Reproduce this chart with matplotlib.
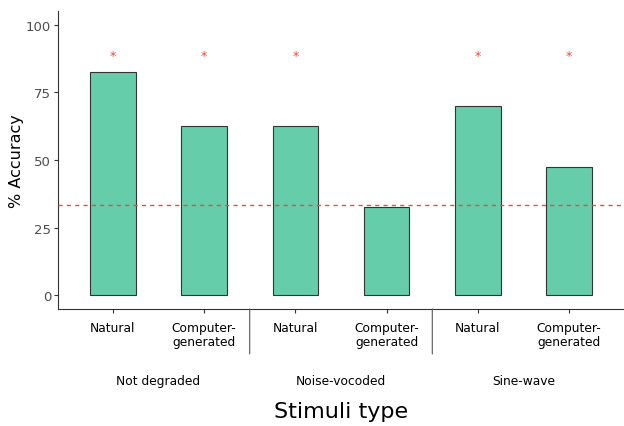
import numpy as np
import matplotlib.pyplot as plt

# data
groups = ['Not degraded', 'Noise-vocoded', 'Sine-wave']
stimuli = ['Natural', 'Computer-\ngenerated']
accuracy = [82.5, 62.5, 62.5, 32.5, 70.0, 47.5]
significant = [True, True, True, False, True, True]
chance = 33.3
star_y = 88.5

x = np.arange(1, len(accuracy) + 1)
tick_labels = stimuli * len(groups)

fig = plt.figure(figsize=(6.24, 4.27), dpi=100)
ax = fig.add_axes([58/624, (427-310)/427, 1 - 58/624, (310-12)/427])

ax.bar(x, accuracy, width=0.5, color='#66CDAA', edgecolor='#333333', linewidth=0.8, zorder=2)
ax.axhline(chance, color='#F0483E', linestyle=(0, (3, 3)), linewidth=1.0, zorder=3)
for xi, s in zip(x, significant):
    if s:
        ax.text(xi, star_y, '*', color='#F0483E', ha='center', va='center', fontsize=9)

ax.set_xlim(0.4, 6.6)
ax.set_ylim(-5, 105)
ax.set_yticks([0, 25, 50, 75, 100])
ax.set_xticks(x)
ax.set_xticklabels(tick_labels, fontsize=8.8, color='black', linespacing=1.1)
ax.tick_params(axis='y', labelsize=9.5, labelcolor='#4d4d4d', color='#333333', length=3, pad=2)
ax.tick_params(axis='x', color='#333333', length=3, pad=6)
for side in ['top', 'right']:
    ax.spines[side].set_visible(False)
for side in ['left', 'bottom']:
    ax.spines[side].set_color('#333333')
    ax.spines[side].set_linewidth(0.8)

ax.set_ylabel('% Accuracy', fontsize=11.5, va='center')
ax.yaxis.set_label_coords(-41/566, 0.5)

# group labels and separators below the axis
for i, g in enumerate(groups):
    ax.annotate(g, xy=(1.5 + 2*i, 0), xycoords=('data', 'axes fraction'),
                xytext=(0, -72), textcoords='offset pixels', ha='center', va='center', fontsize=8.8)
for i in range(1, len(groups)):
    ax.annotate('', xy=(0.5 + 2*i, 0), xycoords=('data', 'axes fraction'),
                xytext=(0, -45), textcoords='offset pixels',
                arrowprops=dict(arrowstyle='-', color='#555555', lw=0.8, shrinkA=0, shrinkB=0))

fig.text((58 + 624) / 2 / 624, 1 - 412/427, 'Stimuli type', ha='center', va='center', fontsize=16)

fig.savefig('out.png', dpi=100)
